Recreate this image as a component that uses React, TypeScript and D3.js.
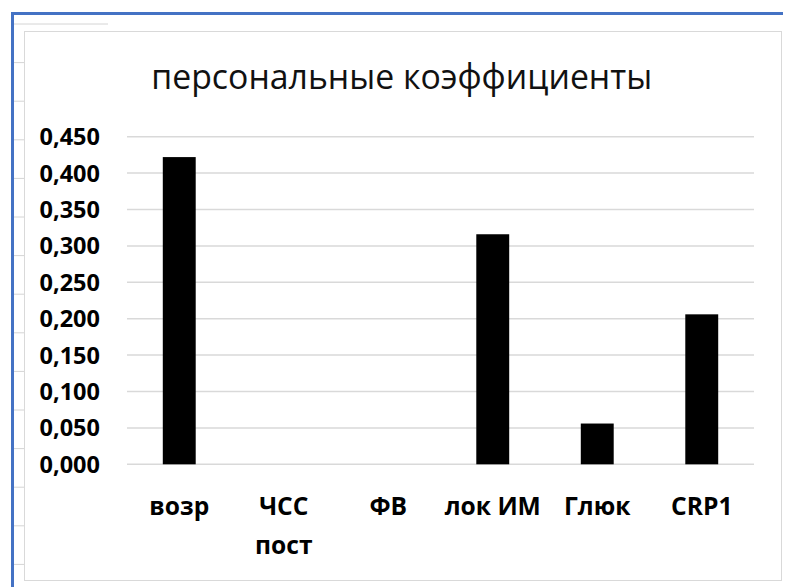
import React from "react";
import * as d3 from "d3";

const categories: string[][] = [["возр"], ["ЧСС", "пост"], ["ФВ"], ["лок ИМ"], ["Глюк"], ["CRP1"]];
const values: number[] = [0.422, 0, 0, 0.316, 0.056, 0.206];
const yTicks: number[] = [0, 0.05, 0.1, 0.15, 0.2, 0.25, 0.3, 0.35, 0.4, 0.45];
const title = "персональные коэффициенты";

const W = 785;
const H = 587;
const plotLeft = 127;
const plotRight = 754;
const plotTop = 136.7;
const plotBottom = 464.3;

export default function App() {
  const keys = categories.map((c) => c.join(" "));
  const x = d3.scaleBand<string>().domain(keys).range([plotLeft, plotRight]).paddingInner(0.685).paddingOuter(0.3425);
  const y = d3.scaleLinear().domain([0, 0.45]).range([plotBottom, plotTop]);
  const fmt = (v: number) => d3.format(".3f")(v).replace(".", ",");
  const rowLines = d3.range(0, 15).map((i) => 24 + i * 38.6);

  return (
    <svg width={W} height={H} style={{ position: "absolute", left: 0, top: 0, background: "#fff" }}>
      <rect x={0} y={0} width={W} height={H} fill="#fff" />
      {/* spreadsheet decorations */}
      {rowLines.map((ry, i) => (
        <line key={i} x1={14} x2={i === 0 ? 108 : 24} y1={ry} y2={ry} stroke="#d4d4d4" strokeWidth={1} />
      ))}
      <line x1={11} x2={783} y1={13.5} y2={13.5} stroke="#4472C4" strokeWidth={3} />
      <line x1={12.5} x2={12.5} y1={12} y2={H} stroke="#4472C4" strokeWidth={3} />
      {/* chart frame */}
      <rect x={24.5} y={31.5} width={757} height={549} fill="#fff" stroke="#d9d9d9" strokeWidth={1} />
      {/* title */}
      <text x={401.7} y={88.5} textAnchor="middle" fontFamily="'Open Sans', sans-serif" fontSize={33.8} fill="#111">
        {title}
      </text>
      {/* gridlines */}
      {yTicks.map((t) => (
        <line key={t} x1={plotLeft} x2={plotRight} y1={y(t)} y2={y(t)} stroke="#d9d9d9" strokeWidth={1.5} />
      ))}
      {/* y labels */}
      {yTicks.map((t) => (
        <text key={"l" + t} x={100} y={y(t)} dy="0.36em" textAnchor="end" fontFamily="'Open Sans', sans-serif" fontWeight={700} fontSize={23.5} fill="#000">
          {fmt(t)}
        </text>
      ))}
      {/* bars */}
      {values.map((v, i) => (
        <rect key={i} x={x(keys[i])} y={y(v)} width={x.bandwidth()} height={y(0) - y(v)} fill="#000" />
      ))}
      {/* x labels */}
      {categories.map((c, i) => (
        <text key={"x" + i} x={(x(keys[i]) as number) + x.bandwidth() / 2} y={515} textAnchor="middle" fontFamily="'Open Sans', sans-serif" fontWeight={700} fontSize={24.6} fill="#000">
          {c.map((line, j) => (
            <tspan key={j} x={(x(keys[i]) as number) + x.bandwidth() / 2} dy={j === 0 ? 0 : 39}>
              {line}
            </tspan>
          ))}
        </text>
      ))}
    </svg>
  );
}
